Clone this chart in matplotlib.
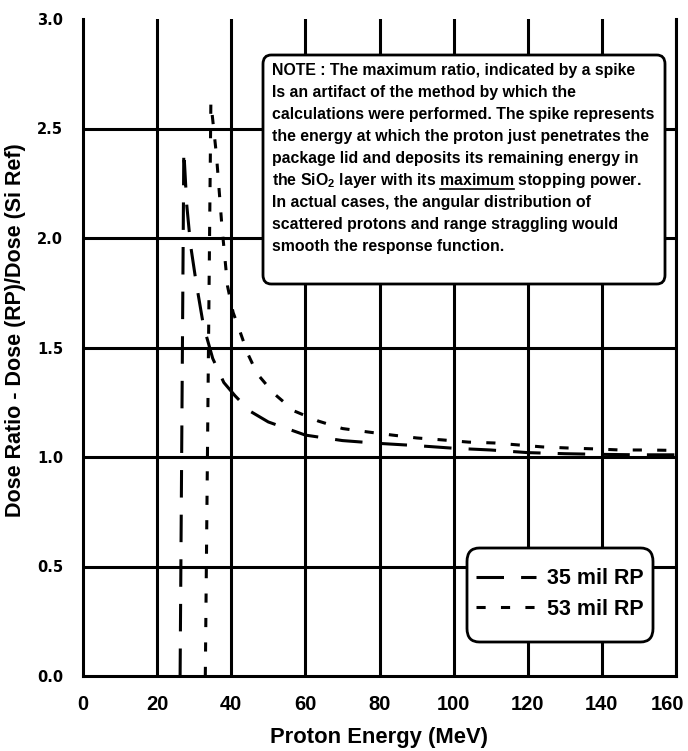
import numpy as np
import matplotlib
matplotlib.use("Agg")
import matplotlib.pyplot as plt
import matplotlib.transforms as mtransforms
from matplotlib.lines import Line2D
from matplotlib.patches import FancyBboxPatch

plt.rcParams['font.family'] = ['Liberation Sans', 'DejaVu Sans']
plt.rcParams['font.weight'] = 'bold'
plt.rcParams['axes.labelweight'] = 'bold'

# 35 mil RP (long dash)
e35 = [26.2, 27.2, 28.0, 29.0, 30.5, 32.5, 35.0, 38.0, 41.0, 45.0, 50.0, 55.0,
       60.0, 70.0, 80.0, 90.0, 100.0, 110.0, 120.0, 130.0, 140.0, 150.0, 160.0]
r35 = [0.0, 2.40, 2.15, 1.97, 1.80, 1.60, 1.45, 1.34, 1.28, 1.21, 1.16, 1.13,
       1.10, 1.075, 1.062, 1.052, 1.04, 1.032, 1.02, 1.015, 1.012, 1.01, 1.01]

# 53 mil RP (short dash)
e53 = [33.0, 34.5, 36.0, 37.5, 39.0, 40.5, 42.0, 44.5, 47.0, 51.5, 57.0, 63.5,
       70.0, 77.0, 83.5, 90.0, 97.0, 104.0, 111.0, 117.5, 124.0, 131.0, 138.0,
       145.0, 152.0, 160.0]
r53 = [0.0, 2.62, 2.38, 2.05, 1.78, 1.66, 1.59, 1.47, 1.38, 1.29, 1.21, 1.164,
       1.13, 1.114, 1.10, 1.087, 1.078, 1.068, 1.064, 1.055, 1.046, 1.041, 1.037,
       1.032, 1.032, 1.03]

xticks = [0, 20, 40, 60, 80, 100, 120, 140, 160]
yticks = [0.0, 0.5, 1.0, 1.5, 2.0, 2.5, 3.0]
labels = ["35 mil RP", "53 mil RP"]

note_lines = [
    "NOTE : The maximum ratio, indicated by a spike",
    "Is an artifact of the method by which the",
    "calculations were performed. The spike represents",
    "the energy at which the proton just penetrates the",
    "package lid and deposits its remaining energy in",
    "the SiO$_\\mathregular{2}$ layer with its maximum stopping power.",
    "In actual cases, the angular distribution of",
    "scattered protons and range straggling would",
    "smooth the response function.",
]
note_fs = 11.4

W, H = 688, 751
fig = plt.figure(figsize=(W/100, H/100), dpi=100)
ax = fig.add_axes([83/W, 1 - 676/H, (676-83)/W, (676-19)/H])

ax.set_xlim(0, 160)
ax.set_ylim(0, 3.0)

# grid lines
for x in xticks[1:]:
    ax.axvline(x, color='black', lw=2.2, zorder=1)
for y in yticks[1:-1]:
    ax.axhline(y, color='black', lw=2.2, zorder=1)

l35, = ax.plot(e35, r35, color='black', lw=2.2, dashes=(9.0, 5.6), zorder=3)
l53, = ax.plot(e53, r53, color='black', lw=2.2, dashes=(3.0, 5.0), zorder=3)

ax.spines['top'].set_visible(False)
for s in ['left', 'bottom', 'right']:
    ax.spines[s].set_linewidth(2.2)

ax.set_xticks(xticks)
ax.set_yticks(yticks)
ax.set_yticklabels(['%.1f' % v for v in yticks], fontfamily='DejaVu Sans', fontsize=10.5)
ax.tick_params(axis='x', length=0, pad=13.5, labelsize=14.5)
ax.tick_params(axis='y', length=0, pad=14.4)
# nudge the last x label inside the figure
lab = ax.get_xticklabels()[-1]
lab.set_transform(lab.get_transform() + mtransforms.ScaledTranslation(-9/100, 0, fig.dpi_scale_trans))

ax.set_xlabel("Proton Energy (MeV)", fontsize=15.8)
ax.set_ylabel("Dose Ratio - Dose (RP)/Dose (Si Ref)", fontsize=15.5)
ax.xaxis.set_label_coords(0.5, (676-727)/657)
ax.yaxis.set_label_coords((26-83)/593, (676-330)/657)

# legend box
lx0, ly0, lx1, ly1 = 467/W, 1 - 642/H, 653/W, 1 - 548/H
lbox = FancyBboxPatch((lx0, ly0), lx1 - lx0, ly1 - ly0,
                      boxstyle="round,pad=0,rounding_size=0.018",
                      transform=fig.transFigure, facecolor='white',
                      edgecolor='black', lw=2.0, zorder=5)
fig.patches.append(lbox)
leg = fig.legend([l35, l53], labels, loc='center',
                 bbox_to_anchor=(560/W, 1 - 594/H), fontsize=15.5, frameon=False,
                 handlelength=2.8, handletextpad=0.5, borderpad=0,
                 labelspacing=0.45)
leg.set_zorder(6)

# note box
bx0, by0, bx1, by1 = 263/W, 1 - 284/H, 665/W, 1 - 55/H
box = FancyBboxPatch((bx0, by0), bx1 - bx0, by1 - by0,
                     boxstyle="round,pad=0,rounding_size=0.012",
                     transform=fig.transFigure, facecolor='white',
                     edgecolor='black', lw=2.0, zorder=5)
fig.patches.append(box)

tx = 272/W
ty0 = 70
dy = 22.1
texts = []
for i, line in enumerate(note_lines):
    t = fig.text(tx, 1 - (ty0 + dy*i)/H, line, fontsize=note_fs, va='center',
                 ha='left', zorder=6)
    texts.append(t)

# underline "maximum"
fig.canvas.draw()
r = fig.canvas.get_renderer()
t6 = texts[5]
word = fig.text(tx, 0, "maximum", fontsize=note_fs)
full = fig.text(tx, 0, "the SiO$_\\mathregular{2}$ layer with its maximum", fontsize=note_fs)
ww = word.get_window_extent(r).width
w1 = full.get_window_extent(r).width
word.remove()
full.remove()
bb = t6.get_window_extent(r)
xa = (bb.x0 + w1 - ww) / fig.bbox.width
xb = (bb.x0 + w1) / fig.bbox.width
yu = 1 - (ty0 + dy*5 + 8.5)/H
fig.add_artist(Line2D([xa, xb], [yu, yu], color='black', lw=1.2,
                      transform=fig.transFigure, zorder=7))

fig.savefig("out.png", dpi=100)
